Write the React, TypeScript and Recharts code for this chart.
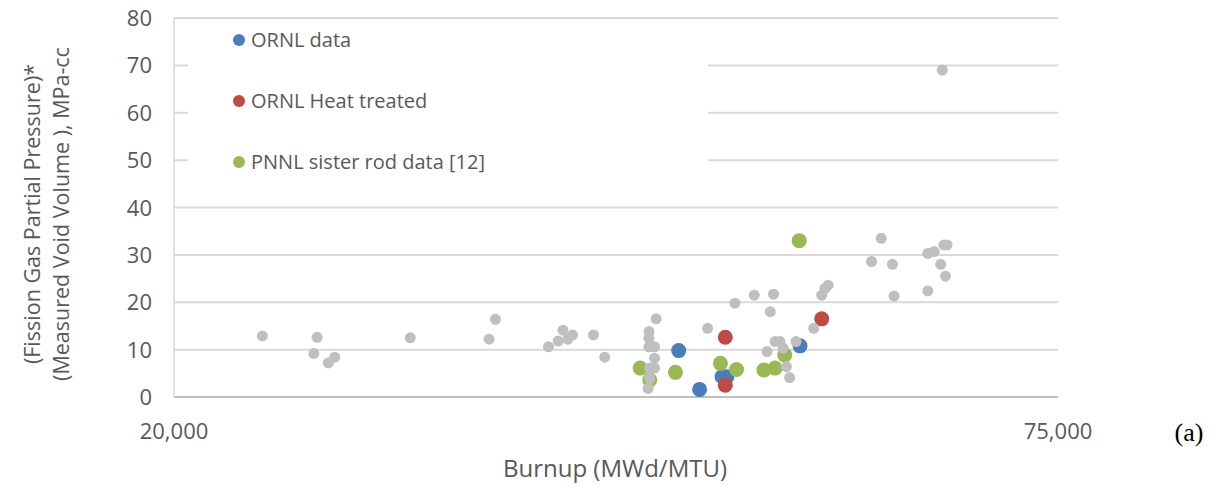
import {
  ScatterChart,
  Scatter,
  XAxis,
  YAxis,
  CartesianGrid,
  Legend,
  Label,
} from "recharts";

// Burnup (MWd/MTU) and pressure*volume (MPa-cc)
const ornlBurnup = [51400, 52700, 54100, 54400, 58950];
const ornlValue = [9.8, 1.6, 4.3, 4.3, 10.8];

const heatBurnup = [54300, 54300, 60300];
const heatValue = [12.6, 2.5, 16.5];

const pnnlBurnup = [58900, 49000, 49600, 51200, 54000, 55000, 56700, 57400, 58000];
const pnnlValue = [33.0, 6.1, 3.6, 5.2, 7.1, 5.8, 5.7, 6.1, 8.9];

const otherBurnup = [
  25500, 28900, 28700, 29600, 30000, 34700, 39600, 40000, 43300, 43900,
  44200, 44500, 44800, 46100, 46800, 50000, 49550, 49550, 49550, 49900,
  49900, 49600, 49900, 49600, 49500, 53200, 54900, 56100, 57300, 57100,
  56900, 57400, 57700, 57900, 58100, 58300, 58700, 59800, 60300, 60500,
  60700, 63400, 64000, 64700, 64800, 66900, 67300, 67800, 67900, 68100,
  67700, 68000, 66900,
];
const otherValue = [
  12.9, 12.6, 9.2, 7.2, 8.4, 12.5, 12.2, 16.4, 10.6, 11.8,
  14.1, 12.2, 13.1, 13.1, 8.4, 16.5, 13.8, 12.4, 10.6, 10.6,
  8.2, 6.1, 6.1, 3.9, 1.8, 14.5, 19.8, 21.5, 21.7, 18.0,
  9.6, 11.7, 11.7, 10.3, 6.4, 4.1, 11.7, 14.5, 21.5, 22.9,
  23.6, 28.6, 33.5, 28.0, 21.3, 30.3, 30.7, 69.0, 32.1, 32.1,
  28.0, 25.5, 22.4,
];

const xTicks = [20000, 75000];
const yTicks = [0, 10, 20, 30, 40, 50, 60, 70, 80];

const legendItems = [
  { name: "ORNL data", color: "#4a7ebb" },
  { name: "ORNL Heat treated", color: "#be4b48" },
  { name: "PNNL sister rod data [12]", color: "#98b954" },
];

const zip = (xs: number[], ys: number[]) => xs.map((x, i) => ({ x, y: ys[i] }));

const FONT = "'Open Sans', sans-serif";
const TEXT = "#595959";

const dot = (r: number, fill: string) => (props: any) =>
  <circle cx={props.cx} cy={props.cy} r={r} fill={fill} />;

function XTick({ x, y, payload }: any) {
  return (
    <text x={x} y={y + 42} textAnchor="middle" fill={TEXT} fontSize={22} fontFamily={FONT}>
      {payload.value.toLocaleString("en-US")}
    </text>
  );
}

function YTick({ x, y, payload }: any) {
  return (
    <text x={x - 22} y={y + 8} textAnchor="end" fill={TEXT} fontSize={22} fontFamily={FONT}>
      {payload.value}
    </text>
  );
}

function LegendBox() {
  return (
    <div style={{ position: "relative", width: "100%", height: "100%", background: "#fff" }}>
      {legendItems.map((it, i) => (
        <div
          key={it.name}
          style={{
            position: "absolute",
            left: 45,
            top: 2 + i * 61,
            display: "flex",
            alignItems: "center",
            fontFamily: FONT,
            fontSize: 20,
            color: TEXT,
            whiteSpace: "nowrap",
          }}
        >
          <span
            style={{
              width: 12,
              height: 12,
              borderRadius: 6,
              background: it.color,
              marginRight: 6,
              display: "inline-block",
            }}
          />
          {it.name}
        </div>
      ))}
    </div>
  );
}

export default function App() {
  return (
    <div style={{ position: "absolute", left: 0, top: 0, background: "#fff" }}>
      <ScatterChart
        width={1212}
        height={487}
        margin={{ top: 18, right: 154, left: 114, bottom: 60 }}
      >
        <CartesianGrid vertical={false} stroke="#d9d9d9" strokeWidth={2} />
        <XAxis
          type="number"
          dataKey="x"
          domain={[20000, 75000]}
          ticks={xTicks}
          height={30}
          tickSize={0}
          tickMargin={0}
          tick={<XTick />}
          stroke="#bfbfbf"
          strokeWidth={2}
          allowDataOverflow
        >
          <Label
            content={() => (
              <g fontFamily={FONT}>
                <text x={615} y={477} textAnchor="middle" fill={TEXT} fontSize={24}>
                  Burnup (MWd/MTU)
                </text>
                <text x={1189} y={441} textAnchor="middle" fill="#000" fontSize={26} fontFamily="'Liberation Serif', serif">
                  (a)
                </text>
              </g>
            )}
          />
        </XAxis>
        <YAxis
          type="number"
          dataKey="y"
          domain={[0, 80]}
          ticks={yTicks}
          width={60}
          tickSize={0}
          tickMargin={0}
          tick={<YTick />}
          stroke="#d9d9d9"
          strokeWidth={1.5}
        >
          <Label
            content={() => (
              <g fontFamily={FONT} fill={TEXT} fontSize={21.5}>
                <text
                  transform="translate(31,214) rotate(-90)"
                  textAnchor="middle"
                  dominantBaseline="central"
                >
                  (Fission Gas Partial Pressure)*
                </text>
                <text
                  transform="translate(60,214) rotate(-90)"
                  textAnchor="middle"
                  dominantBaseline="central"
                >
                  (Measured Void Volume ), MPa-cc
                </text>
              </g>
            )}
          />
        </YAxis>
        <Legend
          layout="vertical"
          align="center"
          verticalAlign="middle"
          wrapperStyle={{ left: 188, top: 24, width: 520, height: 150 }}
          content={() => <LegendBox />}
        />
        <Scatter
          name="ORNL data"
          data={zip(ornlBurnup, ornlValue)}
          shape={dot(7.5, "#4a7ebb")}
          isAnimationActive={false}
        />
        <Scatter
          name="ORNL Heat treated"
          data={zip(heatBurnup, heatValue)}
          shape={dot(7.5, "#be4b48")}
          isAnimationActive={false}
        />
        <Scatter
          name="PNNL sister rod data [12]"
          data={zip(pnnlBurnup, pnnlValue)}
          shape={dot(7.5, "#98b954")}
          isAnimationActive={false}
        />
        <Scatter
          name="Other"
          legendType="none"
          data={zip(otherBurnup, otherValue)}
          shape={dot(5.5, "#bfbfbf")}
          isAnimationActive={false}
        />
      </ScatterChart>
    </div>
  );
}
